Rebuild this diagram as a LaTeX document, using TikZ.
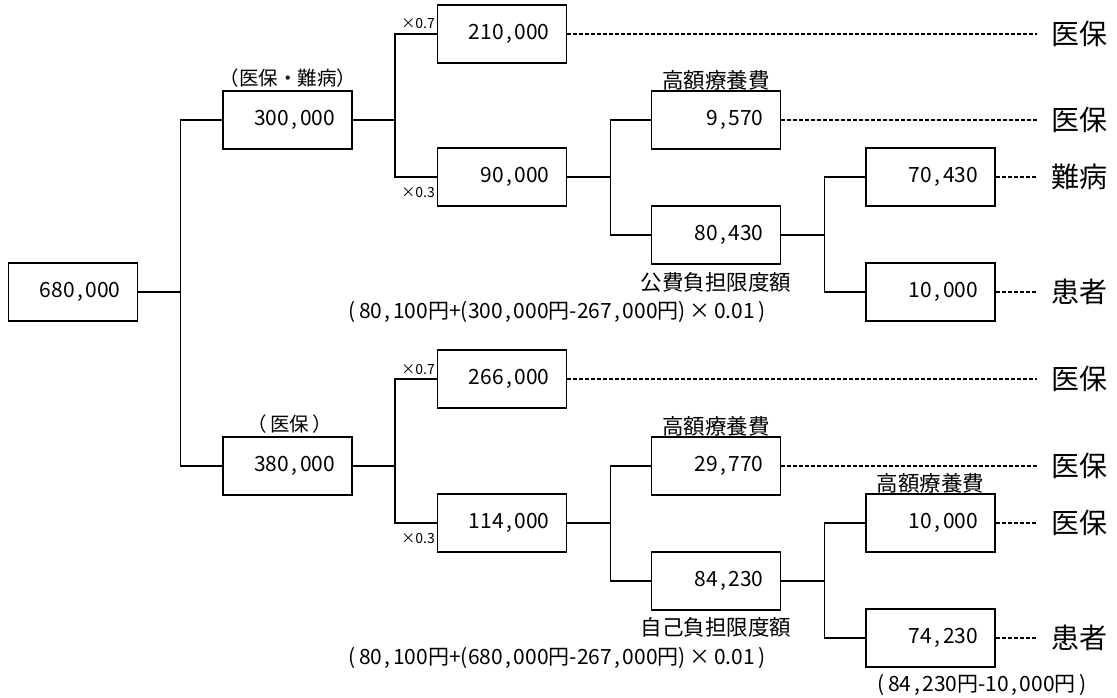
\documentclass[tikz,border=0pt]{standalone}
\usepackage{fontspec}
\setmainfont{Noto Sans CJK JP}
\newcommand\cma{\kern0.12em,\kern0.12em}
\tikzset{
  bx/.style={draw, line width=1.7pt, minimum width=129pt, minimum height=58pt,
    text width=95pt, align=right, inner xsep=17pt, inner ysep=0pt,
    font=\fontsize{21}{25}\selectfont},
  lbl/.style={inner sep=0pt, font=\fontsize{21.5}{25}\selectfont},
  frm/.style={inner sep=0pt, font=\fontsize{21}{25}\selectfont},
  big/.style={anchor=west, inner xsep=14pt, inner ysep=0pt, font=\fontsize{28}{32}\selectfont},
  sm/.style={inner sep=0pt, font=\fontsize{14}{16}\selectfont},
  ln/.style={line width=1.7pt},
  dsh/.style={line width=1.1pt, dash pattern=on 4pt off 2pt}
}
\begin{document}
\begin{tikzpicture}[x=1pt, y=-1pt]
\useasboundingbox (0,0) rectangle (1117,697);
% boxes
\node[bx] (a680) at (73,292) {680\cma000};
\node[bx] (a300) at (287.5,120) {300\cma000};
\node[bx] (a380) at (287.5,466) {380\cma000};
\node[bx] (a210) at (502,34) {210\cma000};
\node[bx] (a90) at (502,177) {90\cma000};
\node[bx] (a266) at (502,379) {266\cma000};
\node[bx] (a114) at (502,523) {114\cma000};
\node[bx] (a9570) at (716,120) {9\cma570};
\node[bx] (a80430) at (716,235) {80\cma430};
\node[bx] (a29770) at (716,466) {29\cma770};
\node[bx] (a84230) at (716,581) {84\cma230};
\node[bx] (a70430) at (930.5,177) {70\cma430};
\node[bx] (a10000) at (930.5,292) {10\cma000};
\node[bx] (b10000) at (930.5,523) {10\cma000};
\node[bx] (a74230) at (930.5,638) {74\cma230};
% right labels
\node[big] (r1) at (1037,34) {医保};
\node[big] (r2) at (1037,120) {医保};
\node[big] (r3) at (1037,177) {難病};
\node[big] (r4) at (1037,292) {患者};
\node[big] (r5) at (1037,379) {医保};
\node[big] (r6) at (1037,466) {医保};
\node[big] (r7) at (1037,523) {医保};
\node[big] (r8) at (1037,638) {患者};
% labels
\node[lbl, font=\fontsize{19.5}{23}\selectfont] (t1) at (288,78) {（医保・難病）};
\node[lbl, font=\fontsize{19.5}{23}\selectfont] (t2) at (290,424) {（\,医保\,）};
\node[lbl] (t3) at (716,80) {高額療養費};
\node[lbl] (t4) at (716,426) {高額療養費};
\node[lbl] (t5) at (930.5,483) {高額療養費};
\node[lbl] (t6) at (716,282) {公費負担限度額};
\node[lbl] (t7) at (716,627) {自己負担限度額};
\node[frm] (f1) at (557,312) {(\,80\cma100円+(300\cma000円-267\cma000円)\,×\,0.01\,)};
\node[frm] (f2) at (557,658) {(\,80\cma100円+(680\cma000円-267\cma000円)\,×\,0.01\,)};
\node[frm] (f3) at (982,685) {(\,84\cma230円-10\cma000円\,)};
\node[sm, anchor=south east] (m1) at (435,29) {×0.7};
\node[sm, anchor=north east] (m2) at (435,187) {×0.3};
\node[sm, anchor=south east] (m3) at (435,375) {×0.7};
\node[sm, anchor=north east] (m4) at (435,533) {×0.3};
% connectors
\draw[ln] (a680.east) -- ++(42,0) |- (a300.west);
\draw[ln] (a680.east) -- ++(42,0) |- (a380.west);
\draw[ln] (a300.east) -- ++(42,0) |- (a210.west);
\draw[ln] (a300.east) -- ++(42,0) |- (a90.west);
\draw[ln] (a380.east) -- ++(42,0) |- (a266.west);
\draw[ln] (a380.east) -- ++(42,0) |- (a114.west);
\draw[ln] (a90.east) -- ++(43,0) |- (a9570.west);
\draw[ln] (a90.east) -- ++(43,0) |- (a80430.west);
\draw[ln] (a114.east) -- ++(43,0) |- (a29770.west);
\draw[ln] (a114.east) -- ++(43,0) |- (a84230.west);
\draw[ln] (a80430.east) -- ++(43,0) |- (a70430.west);
\draw[ln] (a80430.east) -- ++(43,0) |- (a10000.west);
\draw[ln] (a84230.east) -- ++(43,0) |- (b10000.west);
\draw[ln] (a84230.east) -- ++(43,0) |- (a74230.west);
\draw[dsh] (a210.east) -- (r1.west);
\draw[dsh] (a9570.east) -- (r2.west);
\draw[dsh] (a70430.east) -- (r3.west);
\draw[dsh] (a10000.east) -- (r4.west);
\draw[dsh] (a266.east) -- (r5.west);
\draw[dsh] (a29770.east) -- (r6.west);
\draw[dsh] (b10000.east) -- (r7.west);
\draw[dsh] (a74230.east) -- (r8.west);
\end{tikzpicture}
\end{document}
